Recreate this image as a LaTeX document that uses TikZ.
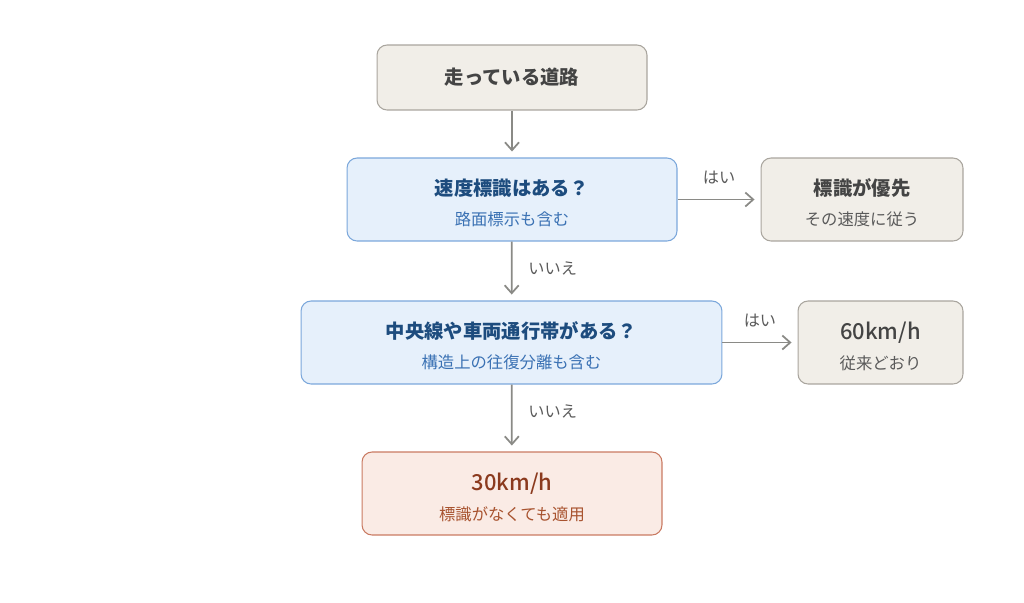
\documentclass[tikz,border=0pt]{standalone}
\usepackage{fontspec}
\setmainfont{Noto Sans CJK JP}
\newfontfamily\mediumfont{Noto Sans CJK JP Medium}
\usetikzlibrary{arrows.meta}
\definecolor{greyfill}{HTML}{F1EEE8}
\definecolor{greyline}{HTML}{A9A59E}
\definecolor{bluefill}{HTML}{E6F0FB}
\definecolor{blueline}{HTML}{7BA7DB}
\definecolor{redfill}{HTML}{FAEBE5}
\definecolor{redline}{HTML}{C97A62}
\definecolor{bluetitle}{HTML}{1D4C7E}
\definecolor{bluesub}{HTML}{3B72B4}
\definecolor{greytitle}{HTML}{444444}
\definecolor{greysub}{HTML}{5A5A5A}
\definecolor{redtitle}{HTML}{8B3A1E}
\definecolor{redsub}{HTML}{A8532F}
\definecolor{arrowgrey}{HTML}{8A8A86}
\newcommand\ttl[1]{{\fontsize{11}{17}\selectfont\bfseries\rule{0pt}{13.6pt}#1}}
\newcommand\kmh[1]{{\fontsize{12.5}{17}\selectfont\mediumfont\rule{0pt}{14.4pt}#1}}
\newcommand\subt[1]{{\fontsize{9.3}{17}\selectfont #1}}

\begin{document}
\begin{tikzpicture}[x=0.02cm,y=-0.02cm,>={Straight Barb[length=4.5pt,width=8pt]},
  box/.style={draw,rounded corners=0.2cm,line width=0.6pt,minimum height=1.66cm,
    align=center,inner sep=0pt,font=\fontsize{9.3}{17}\selectfont},
  greybox/.style={box,fill=greyfill,draw=greyline,text=greytitle},
  bluebox/.style={box,fill=bluefill,draw=blueline,text=bluetitle},
  redbox/.style={box,fill=redfill,draw=redline,text=redtitle},
  flow/.style={->,draw=arrowgrey,line width=1pt,shorten >=3.4pt},
  ans/.style={text=greysub,inner sep=0pt,font=\fontsize{9.2}{10}\selectfont}]
\useasboundingbox (0,0) rectangle (1024,602);

% boxes
\node[greybox,minimum width=5.4cm,minimum height=1.3cm] (road) at (512,77.5)
  {\fontsize{11}{17}\selectfont\bfseries 走っている道路};
\node[bluebox,minimum width=6.6cm] (sign) at (512,199.5)
  {\ttl{速度標識はある？}\\ \color{bluesub}\subt{路面標示も含む}};
\node[greybox,minimum width=4.04cm] (prio) at (862,199.5)
  {\ttl{標識が優先}\\ \color{greysub}\subt{その速度に従う}};
\node[bluebox,minimum width=8.42cm] (line) at (511.5,342.5)
  {\ttl{中央線や車両通行帯がある？}\\ \color{bluesub}\subt{構造上の往復分離も含む}};
\node[greybox,minimum width=3.3cm] (sixty) at (880.5,342.5)
  {\kmh{60km/h}\\ \color{greysub}\subt{従来どおり}};
\node[redbox,minimum width=6cm] (thirty) at (512,493.5)
  {\kmh{30km/h}\\ \color{redsub}\subt{標識がなくても適用}};

% arrows
\draw[flow] (road) -- (sign);
\draw[flow] (sign) -- node[ans,anchor=west,xshift=9pt,yshift=1.5pt] {いいえ} (line);
\draw[flow] (sign) -- node[ans,yshift=12.5pt] {はい} (prio);
\draw[flow] (line) -- node[ans,yshift=12.5pt] {はい} (sixty);
\draw[flow] (line) -- node[ans,anchor=west,xshift=9pt,yshift=4pt] {いいえ} (thirty);
\end{tikzpicture}
\end{document}
